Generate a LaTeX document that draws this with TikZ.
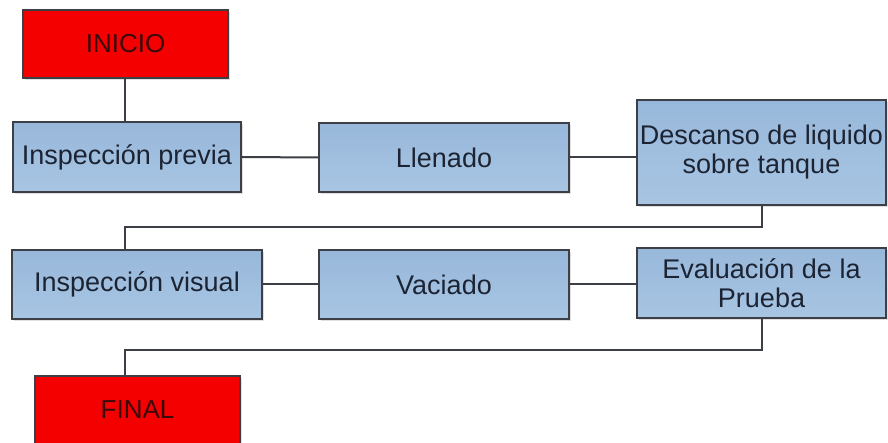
\documentclass[tikz,border=0pt]{standalone}
\usepackage{fontspec}
\setmainfont{Liberation Sans}
\usetikzlibrary{shadows}
\definecolor{boxtop}{HTML}{98B8DB}
\definecolor{boxbot}{HTML}{A8C5E2}
\definecolor{edgec}{HTML}{3C4046}
\definecolor{txt}{HTML}{1C2433}
\definecolor{redfill}{HTML}{F40000}
\definecolor{redtxt}{HTML}{3A0A0A}
\tikzset{
  x=1pt, y=-1pt,
  box/.style={draw=edgec, line width=1.5pt, top color=boxtop, bottom color=boxbot,
    inner sep=0pt, outer sep=0pt, align=center, text=txt,
    font=\fontsize{27}{29}\selectfont,
    drop shadow={shadow xshift=2pt, shadow yshift=-2pt, opacity=0.25, fill=gray}},
  redbox/.style={draw=edgec, line width=1.5pt, fill=redfill, inner sep=0pt, outer sep=0pt,
    text=redtxt, font=\fontsize{26}{29}\selectfont,
    drop shadow={shadow xshift=2pt, shadow yshift=-2pt, opacity=0.25, fill=gray}},
  link/.style={draw=edgec, line width=2pt}
}
\begin{document}
\begin{tikzpicture}
\useasboundingbox (0,0) rectangle (888,443);
\fill[white] (0,0) rectangle (888,443);
\node[redbox, minimum width=205pt, minimum height=68pt] (ini) at (125.5,44) {INICIO};
\node[box, minimum width=228pt, minimum height=70pt] (b1) at (127,157) {Inspección previa};
\node[box, minimum width=250pt, minimum height=69pt] (b2) at (444,157.5) {Llenado};
\node[box, minimum width=249pt, minimum height=105pt] (b3) at (761.5,152.5) {Descanso de liquido\\sobre tanque};
\node[box, minimum width=250pt, minimum height=69pt] (b4) at (137,284.5) {Inspección visual};
\node[box, minimum width=250pt, minimum height=69pt] (b5) at (444,284.5) {Vaciado};
\node[box, minimum width=249pt, minimum height=70pt] (b6) at (761.5,283) {Evaluación de la\\Prueba};
\node[redbox, minimum width=205pt, minimum height=68pt] (fin) at (137.5,410) {FINAL};
\coordinate (j1) at (125,227);
\coordinate (j2) at (125,350);
\draw[link] (ini.south -| j1) -- (b1.north -| j1);
\draw[link] (b1.east) -- (b2.west);
\draw[link] (b2.east) -- (b2.east -| b3.west);
\draw[link] (b3.south) |- (j1) -- (j1 |- b4.north);
\draw[link] (b4.east) -- (b5.west);
\draw[link] (b5.east) -- (b5.east -| b6.west);
\draw[link] (b6.south) |- (j2) -- (j2 |- fin.north);
\end{tikzpicture}
\end{document}
